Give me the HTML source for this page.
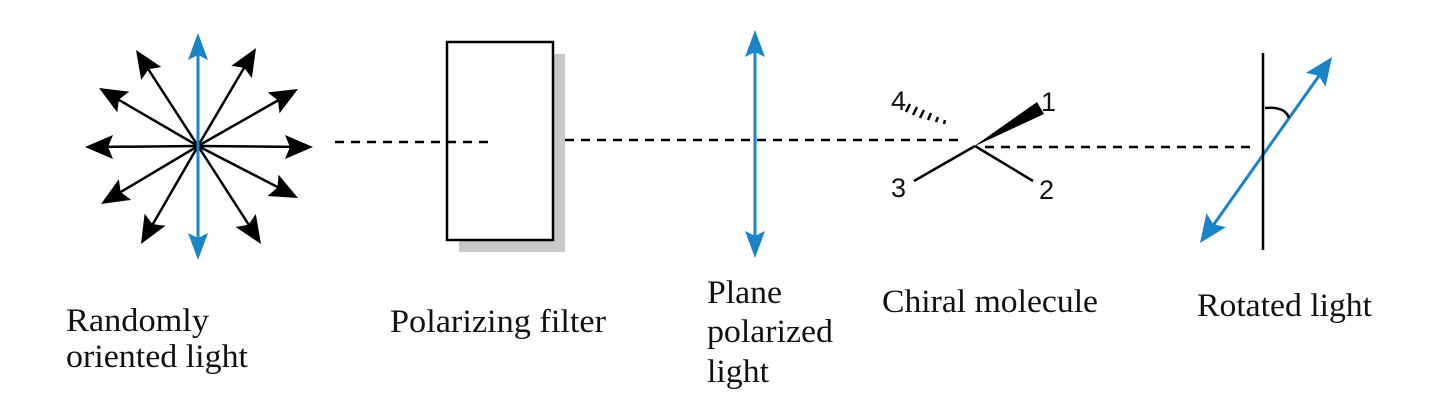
<!DOCTYPE html>
<html><head><style>
body{margin:0;background:#fff;width:1430px;height:400px;overflow:hidden}
svg{display:block}
text.l{font-family:"Liberation Serif",serif;font-size:33px;fill:#111}
text.n{font-family:"Liberation Sans",sans-serif;font-size:27px;fill:#111}
</style></head><body>
<svg width="1430" height="400" viewBox="0 0 1430 400">
<g stroke="#000" stroke-width="2.5" fill="none">
<line x1="198" y1="146" x2="95" y2="147"/>
<line x1="198" y1="146" x2="305" y2="147"/>
<line x1="198" y1="146" x2="141" y2="58"/>
<line x1="198" y1="146" x2="107" y2="93"/>
<line x1="198" y1="146" x2="109" y2="199"/>
<line x1="198" y1="146" x2="146" y2="236"/>
<line x1="198" y1="146" x2="251" y2="56"/>
<line x1="198" y1="146" x2="291" y2="93"/>
<line x1="198" y1="146" x2="291" y2="194"/>
<line x1="198" y1="146" x2="256" y2="236"/>
</g>
<g fill="#000">
<g transform="translate(85,147) rotate(180)"><polygon points="0,0 -28,-12 -23,0 -28,12"/></g>
<g transform="translate(313,147)"><polygon points="0,0 -28,-12 -23,0 -28,12"/></g>
<g transform="translate(136,50) rotate(237)"><polygon points="0,0 -28,-12 -23,0 -28,12"/></g>
<g transform="translate(99,88) rotate(210)"><polygon points="0,0 -28,-12 -23,0 -28,12"/></g>
<g transform="translate(101,204) rotate(149)"><polygon points="0,0 -28,-12 -23,0 -28,12"/></g>
<g transform="translate(141,244) rotate(120)"><polygon points="0,0 -28,-12 -23,0 -28,12"/></g>
<g transform="translate(256,48) rotate(-59)"><polygon points="0,0 -28,-12 -23,0 -28,12"/></g>
<g transform="translate(298,89) rotate(-29.5)"><polygon points="0,0 -28,-12 -23,0 -28,12"/></g>
<g transform="translate(298,198) rotate(27)"><polygon points="0,0 -28,-12 -23,0 -28,12"/></g>
<g transform="translate(261,244) rotate(57)"><polygon points="0,0 -28,-12 -23,0 -28,12"/></g>
</g>
<g fill="#1a84c7" stroke="none">
<rect x="196.5" y="50" width="3" height="190"/>
<polygon points="198,33 188,60 198,55 208,60"/>
<polygon points="198,260 188,233 198,238 208,233"/>
<rect x="753.5" y="45" width="3" height="200"/>
<polygon points="755,30 745,57 755,52 765,57"/>
<polygon points="755,258 745,231 755,236 765,231"/>
</g>
<line x1="1212" y1="227" x2="1321" y2="73" stroke="#1a84c7" stroke-width="3"/>
<g fill="#1a84c7" transform="translate(1332,57) rotate(-54.6)"><polygon points="0,0 -28,-12 -23,0 -28,12"/></g>
<g fill="#1a84c7" transform="translate(1200,243) rotate(125.4)"><polygon points="0,0 -28,-12 -23,0 -28,12"/></g>
<line x1="1263" y1="53" x2="1263" y2="250" stroke="#000" stroke-width="2.5"/>
<path d="M1265,108 Q1285,106 1289,118" stroke="#000" stroke-width="2.5" fill="none"/>
<rect x="459" y="54" width="106" height="198" fill="#c8c8c8"/>
<rect x="447" y="42" width="106" height="198" fill="#fff" stroke="#000" stroke-width="2.5"/>
<g stroke="#000" stroke-width="2.5" stroke-dasharray="9,7" fill="none">
<line x1="335" y1="142" x2="488" y2="142"/>
<line x1="565" y1="140" x2="960" y2="140"/>
<line x1="985" y1="147" x2="1257" y2="147"/>
</g>
<g stroke="#000" stroke-width="2.5" fill="none">
<line x1="975" y1="146" x2="914" y2="181"/>
<line x1="975" y1="146" x2="1033" y2="181"/>
<line x1="910" y1="104" x2="906" y2="112"/>
<line x1="917" y1="107" x2="913" y2="115"/>
<line x1="924" y1="110" x2="920" y2="118"/>
<line x1="931" y1="113" x2="928" y2="120"/>
<line x1="938" y1="117" x2="936" y2="122"/>
<line x1="945" y1="120" x2="944" y2="124"/>
</g>
<polygon points="973,147 1037,102 1044,114" fill="#000"/>
<text class="n" x="891" y="110">4</text>
<text class="n" x="1041" y="111">1</text>
<text class="n" x="891" y="197">3</text>
<text class="n" x="1039" y="199">2</text>
<text class="l" x="66" y="331" textLength="143" lengthAdjust="spacingAndGlyphs">Randomly</text>
<text class="l" x="66" y="367" textLength="182" lengthAdjust="spacingAndGlyphs">oriented light</text>
<text class="l" x="390" y="332" textLength="216" lengthAdjust="spacingAndGlyphs">Polarizing filter</text>
<text class="l" x="707" y="303" textLength="75" lengthAdjust="spacingAndGlyphs">Plane</text>
<text class="l" x="707" y="342" textLength="126" lengthAdjust="spacingAndGlyphs">polarized</text>
<text class="l" x="707" y="382" textLength="62" lengthAdjust="spacingAndGlyphs">light</text>
<text class="l" x="882" y="312" textLength="216" lengthAdjust="spacingAndGlyphs">Chiral molecule</text>
<text class="l" x="1197" y="316" textLength="175" lengthAdjust="spacingAndGlyphs">Rotated light</text>
</svg>
</body></html>
